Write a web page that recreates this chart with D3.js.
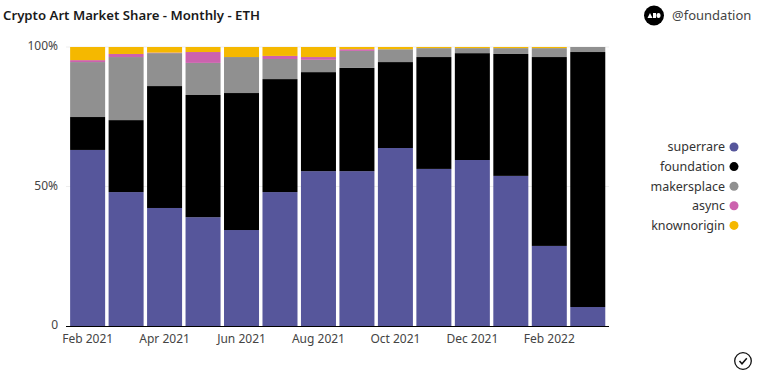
<!DOCTYPE html>
<html>
<head>
<meta charset="utf-8">
<script src="https://cdn.jsdelivr.net/npm/d3@7"></script>
<style>
    body { margin: 0; background: #fff; }
    text { font-family: "Noto Sans", Roboto, sans-serif; }
</style>
</head>
<body>
<div id="chart"></div>
<script>
const months = ["2021-02", "2021-03", "2021-04", "2021-05", "2021-06", "2021-07", "2021-08",
    "2021-09", "2021-10", "2021-11", "2021-12", "2022-01", "2022-02", "2022-03"];
const tickMonths = ["2021-02", "2021-04", "2021-06", "2021-08", "2021-10", "2021-12", "2022-02"];
const tickLabels = ["Feb 2021", "Apr 2021", "Jun 2021", "Aug 2021", "Oct 2021", "Dec 2021", "Feb 2022"];

const names = ["superrare", "foundation", "makersplace", "async", "knownorigin"];
const colors = ["#56569b", "#000000", "#909090", "#cc62ae", "#f5b800"];

const superrare = [63.1, 48.0, 42.3, 39.0, 34.4, 48.0, 55.5, 55.5, 63.8, 56.3, 59.5, 53.8, 28.7, 6.8];
const foundation = [11.8, 25.8, 43.7, 43.8, 49.1, 40.5, 35.5, 37.0, 30.8, 40.1, 38.3, 43.7, 67.7, 91.4];
const makersplace = [19.7, 22.6, 11.8, 11.5, 12.9, 7.2, 4.4, 6.1, 4.6, 3.2, 1.8, 2.1, 3.2, 1.8];
const async_ = [0.7, 1.1, 0.2, 3.9, 0, 1.1, 1.0, 0.6, 0, 0, 0, 0, 0, 0];
const knownorigin = [4.7, 2.5, 2.0, 1.8, 3.6, 3.2, 3.6, 0.8, 0.8, 0.4, 0.4, 0.4, 0.4, 0];

let rows = months.map((m, i) => ({
    month: m,
    superrare: superrare[i],
    foundation: foundation[i],
    makersplace: makersplace[i],
    async: async_[i],
    knownorigin: knownorigin[i]
}));

let width = 758, height = 375;
let margin = {top: 47, right: 149, bottom: 49, left: 66};

let svg = d3.select("#chart").append("svg")
    .attr("width", width)
    .attr("height", height)
    .style("display", "block");

svg.append("text")
    .attr("x", 3)
    .attr("y", 20)
    .text("Crypto Art Market Share - Monthly - ETH")
    .style("font-size", "13.2px")
    .style("font-weight", 600)
    .style("fill", "#1a1a1a");

// logo + handle
let logo = svg.append("g").attr("transform", "translate(654,15.5)");
logo.append("circle").attr("r", 10).attr("fill", "#000");
logo.append("path").attr("d", "M-6.5,2.5 L-4,-2.5 L-1.5,2.5 Z").attr("fill", "#fff");
logo.append("rect").attr("x", -1).attr("y", -2.5).attr("width", 3).attr("height", 5).attr("fill", "#fff");
logo.append("rect").attr("x", 2.5).attr("y", -2.5).attr("width", 4).attr("height", 5).attr("rx", 2).attr("fill", "#fff");

svg.append("text")
    .attr("x", 672)
    .attr("y", 20)
    .text("@foundation")
    .style("font-size", "13px")
    .style("fill", "#444");

let x = d3.scaleBand()
    .domain(months)
    .range([margin.left + 2.2, width - margin.right - 1.8])
    .paddingInner(0.09)
    .paddingOuter(0.05);

let y = d3.scaleLinear()
    .domain([0, 100])
    .range([height - margin.bottom, margin.top]);

// gridlines behind the bars
svg.append("g")
    .selectAll("line")
    .data([50, 100])
    .join("line")
    .attr("x1", margin.left)
    .attr("x2", width - margin.right)
    .attr("y1", d => y(d))
    .attr("y2", d => y(d))
    .attr("stroke", "#eeeeee");

let series = d3.stack().keys(names)(rows);

svg.append("g")
    .selectAll("g")
    .data(series)
    .join("g")
    .attr("fill", (d, i) => colors[i])
    .selectAll("rect")
    .data(d => d)
    .join("rect")
    .attr("x", d => x(d.data.month))
    .attr("y", d => y(d[1]))
    .attr("width", x.bandwidth())
    .attr("height", d => y(d[0]) - y(d[1]));

// axes
let xAxis = svg.append("g")
    .attr("transform", `translate(0,${height - margin.bottom})`)
    .call(d3.axisBottom(x)
        .tickValues(tickMonths)
        .tickFormat((d, i) => tickLabels[i])
        .tickSize(0)
        .tickPadding(8));
xAxis.select(".domain").attr("stroke", "#000").attr("d", `M${margin.left},0.5H${width - margin.right}`);
xAxis.selectAll("text").style("font-size", "12px").style("fill", "#444").style("font-family", '"Noto Sans"');

let yAxis = svg.append("g")
    .attr("transform", `translate(${margin.left},-1)`)
    .call(d3.axisLeft(y)
        .tickValues([0, 50, 100])
        .tickFormat(d => d === 0 ? "0" : d + "%")
        .tickSize(0)
        .tickPadding(8));
yAxis.select(".domain").remove();
yAxis.selectAll("text").style("font-size", "12px").style("fill", "#444").style("font-family", '"Noto Sans"');

// legend
let legend = svg.append("g")
    .selectAll("g")
    .data(names)
    .join("g")
    .attr("transform", (d, i) => `translate(734,${147 + i * 19.6})`);

legend.append("circle")
    .attr("r", 4.5)
    .attr("fill", (d, i) => colors[i]);

legend.append("text")
    .attr("x", -9)
    .attr("dy", "0.35em")
    .attr("text-anchor", "end")
    .text(d => d)
    .style("font-size", "12.5px")
    .style("fill", "#333");

// check mark badge
let badge = svg.append("g").attr("transform", "translate(743,361)");
badge.append("circle").attr("r", 8.3).attr("fill", "none").attr("stroke", "#111").attr("stroke-width", 1.3);
badge.append("path").attr("d", "M-3.5,0 L-1,2.8 L3.8,-2.8").attr("fill", "none").attr("stroke", "#111").attr("stroke-width", 1.5);
</script>
</body>
</html>
